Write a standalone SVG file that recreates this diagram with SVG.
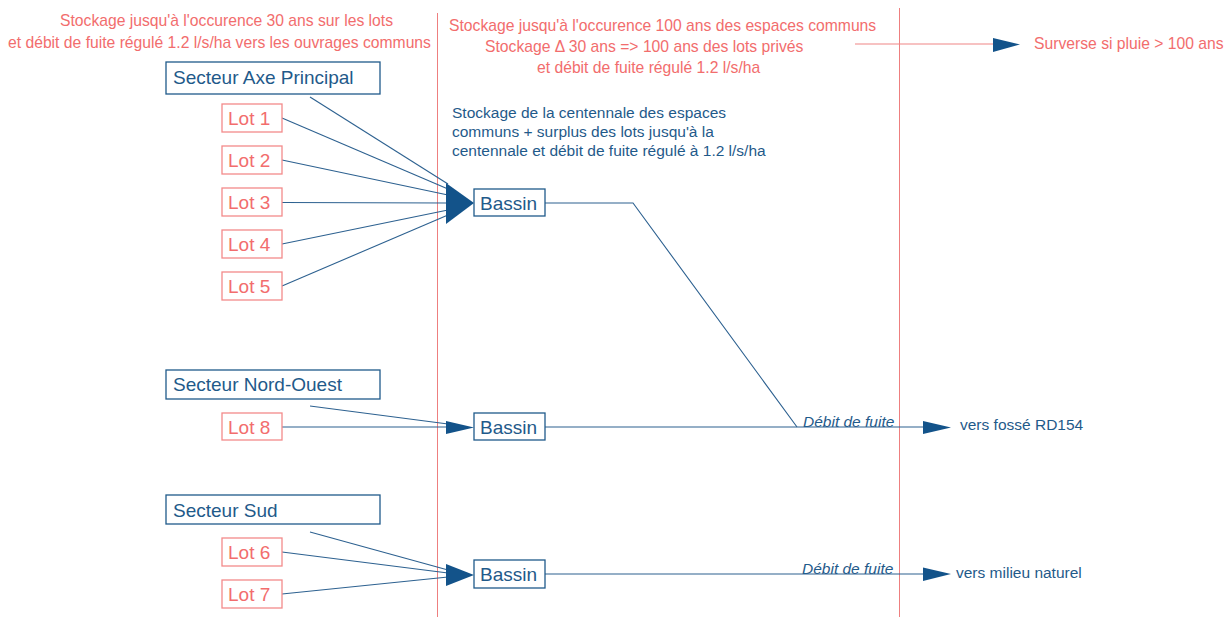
<svg xmlns="http://www.w3.org/2000/svg" width="1232" height="617" viewBox="0 0 1232 617">
<style>
text{font-family:"Liberation Sans",Arial,sans-serif;}
.red{fill:#f26d6d;font-size:15.7px;}
.blue{fill:#1f5a8a;font-size:15.5px;}
.lbl{fill:#1f5a8a;font-size:19px;}
.lotlbl{fill:#f26d6d;font-size:19px;}
.ital{fill:#1f5a8a;font-size:15.5px;font-style:italic;}
.bbox{fill:#fff;stroke:#1f5a8a;stroke-width:1.3;}
.rbox{fill:#fff;stroke:#f38a8a;stroke-width:1.3;}
.vline{stroke:#ee7f7f;stroke-width:1;fill:none;}
.conn{stroke:#2d6190;stroke-width:1.1;fill:none;}
.head{fill:#13538a;}
</style>
<rect width="1232" height="617" fill="#fff"/>
<g id="dividers">
<line class="vline" x1="437.5" y1="13" x2="437.5" y2="617"/>
<line class="vline" x1="899.5" y1="8" x2="899.5" y2="617"/>
</g>
<g id="annotations">
<text class="red" x="60" y="26">Stockage jusqu'à l'occurence 30 ans sur les lots</text>
<text class="red" x="8" y="48">et débit de fuite régulé 1.2 l/s/ha vers les ouvrages communs</text>
<text class="red" x="449" y="31">Stockage jusqu'à l'occurence 100 ans des espaces communs</text>
<text class="red" x="485" y="52">Stockage Δ 30 ans =&gt; 100 ans des lots privés</text>
<text class="red" x="537" y="73">et débit de fuite régulé 1.2 l/s/ha</text>
<text class="blue" x="452" y="118">Stockage de la centennale des espaces</text>
<text class="blue" x="452" y="137">communs + surplus des lots jusqu'à la</text>
<text class="blue" x="452" y="156">centennale et débit de fuite régulé à 1.2 l/s/ha</text>
<text class="red" x="1034" y="49">Surverse si pluie &gt; 100 ans</text>
<text class="blue" x="960" y="430">vers fossé RD154</text>
<text class="blue" x="956" y="578">vers milieu naturel</text>
<text class="ital" x="803" y="427">Débit de fuite</text>
<text class="ital" x="802" y="574">Débit de fuite</text>
</g>
<g id="connectors">
<line x1="855" y1="44" x2="995" y2="44" stroke="#f08585" stroke-width="1.1"/>
<polygon class="head" points="993,38 1020,44.5 993,52"/>
<line class="conn" x1="310" y1="97" x2="448" y2="184"/>
<line class="conn" x1="282" y1="118" x2="448" y2="189"/>
<line class="conn" x1="282" y1="160" x2="448" y2="195"/>
<line class="conn" x1="282" y1="202.5" x2="448" y2="203"/>
<line class="conn" x1="282" y1="244" x2="448" y2="210"/>
<line class="conn" x1="282" y1="286" x2="448" y2="215"/>
<polygon class="head" points="446,183 474,203 446,224"/>
<polyline class="conn" points="545,203 633,203 797,427"/>
<line class="conn" x1="310" y1="406" x2="448" y2="424"/>
<line class="conn" x1="282" y1="427" x2="448" y2="427"/>
<polygon class="head" points="446,421 474,427.5 446,434"/>
<line class="conn" x1="545" y1="427" x2="925" y2="427"/>
<polygon class="head" points="923,421 951,427.5 923,434"/>
<line class="conn" x1="310" y1="532" x2="448" y2="570"/>
<line class="conn" x1="282" y1="552" x2="448" y2="573"/>
<line class="conn" x1="282" y1="594" x2="448" y2="577"/>
<polygon class="head" points="446,564 474,575 446,586"/>
<line class="conn" x1="545" y1="574" x2="925" y2="574"/>
<polygon class="head" points="923,567.5 951,574 923,581"/>
</g>
<g id="secteur-axe-principal">
<rect class="bbox" x="166" y="62" width="214" height="32"/>
<text class="lbl" x="173" y="84">Secteur Axe Principal</text>
</g>
<g id="lot1"><rect class="rbox" x="222" y="104" width="60" height="28"/><text class="lotlbl" x="228" y="125">Lot 1</text></g>
<g id="lot2"><rect class="rbox" x="222" y="146" width="60" height="28"/><text class="lotlbl" x="228" y="167">Lot 2</text></g>
<g id="lot3"><rect class="rbox" x="222" y="188" width="60" height="28"/><text class="lotlbl" x="228" y="209">Lot 3</text></g>
<g id="lot4"><rect class="rbox" x="222" y="230" width="60" height="28"/><text class="lotlbl" x="228" y="251">Lot 4</text></g>
<g id="lot5"><rect class="rbox" x="222" y="272" width="60" height="28"/><text class="lotlbl" x="228" y="293">Lot 5</text></g>
<g id="bassin1"><rect class="bbox" x="474" y="189" width="71" height="27"/><text class="lbl" x="480" y="209.5">Bassin</text></g>
<g id="secteur-nord-ouest">
<rect class="bbox" x="166" y="370" width="214" height="29"/>
<text class="lbl" x="173" y="391">Secteur Nord-Ouest</text>
</g>
<g id="lot8"><rect class="rbox" x="222" y="413" width="60" height="27"/><text class="lotlbl" x="228" y="434">Lot 8</text></g>
<g id="bassin2"><rect class="bbox" x="474" y="413" width="71" height="27"/><text class="lbl" x="480" y="433.5">Bassin</text></g>
<g id="secteur-sud">
<rect class="bbox" x="166" y="495" width="214" height="29"/>
<text class="lbl" x="173" y="517">Secteur Sud</text>
</g>
<g id="lot6"><rect class="rbox" x="222" y="538" width="60" height="28"/><text class="lotlbl" x="228" y="559">Lot 6</text></g>
<g id="lot7"><rect class="rbox" x="222" y="580" width="60" height="28"/><text class="lotlbl" x="228" y="601">Lot 7</text></g>
<g id="bassin3"><rect class="bbox" x="474" y="560" width="71" height="28"/><text class="lbl" x="480" y="581">Bassin</text></g>
</svg>
